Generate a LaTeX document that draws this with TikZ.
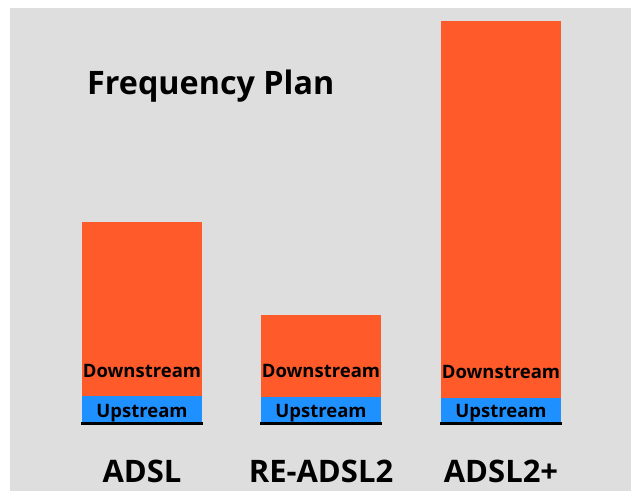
\documentclass[tikz,border=0pt]{standalone}
\usepackage{fontspec}
\setmainfont{Open Sans}[BoldFont={Open Sans Bold}]
\definecolor{panel}{HTML}{DEDEDE}
\definecolor{down}{HTML}{FF5A2A}
\definecolor{up}{HTML}{1E90FF}
\begin{document}
\begin{tikzpicture}[x=1pt,y=-1pt,
  downbar/.style={fill=down,draw=none},
  upbar/.style={fill=up,draw=none},
  baseline rule/.style={line width=3pt,black},
  bandlabel/.style={anchor=base,inner sep=0pt,font=\bfseries\fontsize{18.5}{18.5}\selectfont},
  techlabel/.style={anchor=base,inner sep=0pt,font=\bfseries\fontsize{31}{31}\selectfont},
  titlelabel/.style={anchor=base west,inner sep=0pt,font=\bfseries\fontsize{32.3}{32.3}\selectfont}]
\useasboundingbox (0,0) rectangle (631,491);
\fill[white] (0,0) rectangle (631,491);
\fill[panel] (10,8) rectangle (631,491);

\node[titlelabel] (title) at (87,94) {Frequency Plan};

% ADSL
\fill[downbar] (82,222) rectangle (202,396);
\fill[upbar] (82,396) rectangle (202,423);
\draw[baseline rule] (81,423.5) -- (203,423.5);
\node[bandlabel] (d1) at (142,377) {Downstream};
\node[bandlabel] (u1) at (142,417) {Upstream};
\node[techlabel] (t1) at (142,482) {ADSL};

% RE-ADSL2
\fill[downbar] (261,315) rectangle (381,397);
\fill[upbar] (261,397) rectangle (381,423);
\draw[baseline rule] (260,423.5) -- (382,423.5);
\node[bandlabel] (d2) at (321,377) {Downstream};
\node[bandlabel] (u2) at (321,417) {Upstream};
\node[techlabel] (t2) at (321,482) {RE-ADSL2};

% ADSL2+
\fill[downbar] (441,21) rectangle (561,398);
\fill[upbar] (441,398) rectangle (561,423);
\draw[baseline rule] (440,423.5) -- (562,423.5);
\node[bandlabel] (d3) at (501,378) {Downstream};
\node[bandlabel] (u3) at (501,417) {Upstream};
\node[techlabel] (t3) at (501,482) {ADSL2+};
\end{tikzpicture}
\end{document}
